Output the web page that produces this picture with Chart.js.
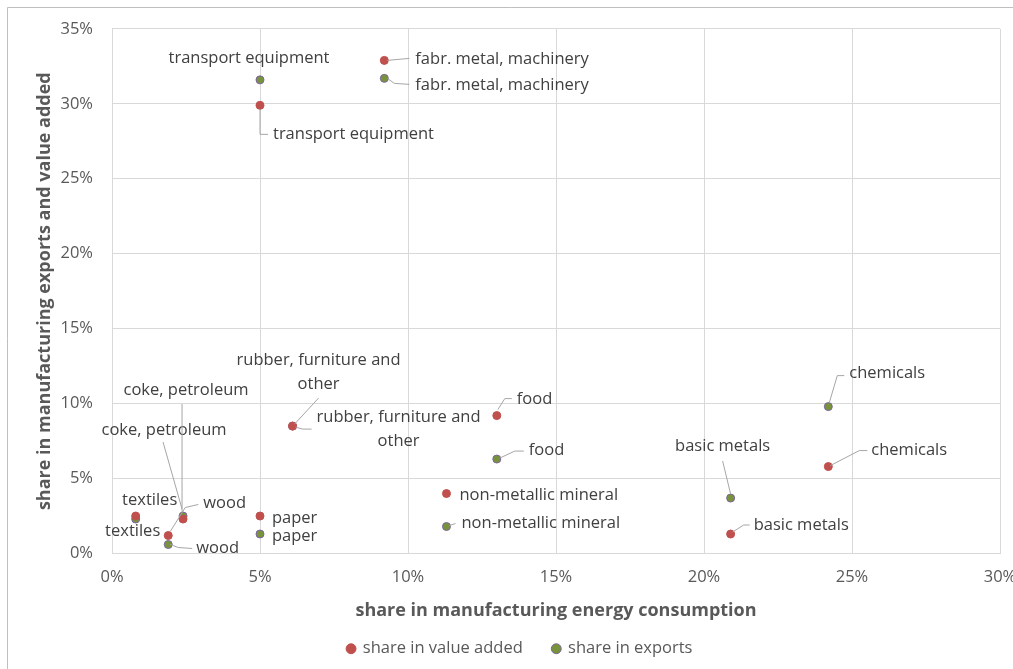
<!DOCTYPE html>
<html>
<head>
<meta charset="utf-8">
<script src="https://cdn.jsdelivr.net/npm/chart.js@4"></script>
<style>
  html, body { margin: 0; padding: 0; background: #fff; }
  #wrap { width: 1013px; height: 669px; }
</style>
</head>
<body>
<div id="wrap"><canvas id="chart" width="1013" height="669"></canvas></div>
<script>
// sectors, in the same order in every array
var categories = ['textiles', 'coke, petroleum', 'wood', 'paper', 'transport equipment',
    'fabr. metal, machinery', 'rubber, furniture and other', 'food', 'non-metallic mineral',
    'chemicals', 'basic metals'];
var energyShare = [0.8, 2.4, 1.9, 5.0, 5.0, 9.2, 6.1, 13.0, 11.3, 24.2, 20.9];
var valueAddedShare = [2.5, 2.3, 1.2, 2.5, 29.9, 32.9, 8.5, 9.2, 4.0, 5.8, 1.3];
var exportsShare = [2.3, 2.5, 0.6, 1.3, 31.6, 31.7, 8.5, 6.3, 1.8, 9.8, 3.7];
var seriesNames = ['share in value added', 'share in exports'];
var xTicks = [0, 5, 10, 15, 20, 25, 30];
var yTicks = [0, 5, 10, 15, 20, 25, 30, 35];

var textColor = '#595959';
var fontFamily = "'Open Sans', 'Liberation Sans', sans-serif";

function toPoints(ys) {
    return ys.map(function(y, i) { return { x: energyShare[i], y: y }; });
}

// where each data label sits, relative to its point (px), and the leader line path
var labelPlacement = [
    [ // value added
        { dx: 14, dy: -16, align: 'center' },
        { dx: -19, dy: -89, align: 'center', line: [[-1, -10], [-20, -77]] },
        { dx: 35, dy: -32, align: 'left', line: [[2, -4], [17, -28], [30, -31]] },
        { dx: 12, dy: 2, align: 'left' },
        { dx: 13, dy: 29, align: 'left', line: [[0, 4], [0, 29], [8, 29]] },
        { dx: 31, dy: -1, align: 'left', line: [[3, 0], [25, -2]] },
        { dx: 26, dy: -66, align: 'center', line: [[2, -2], [26, -28]] },
        { dx: 20, dy: -16, align: 'left', line: [[1, -6], [8, -17], [15, -17]] },
        { dx: 13, dy: 2, align: 'left' },
        { dx: 43, dy: -16, align: 'left', line: [[2, -1], [31, -16], [39, -16]] },
        { dx: 23, dy: -9, align: 'left', line: [[2, -2], [13, -9], [19, -9]] }
    ],
    [ // exports
        { dx: -3, dy: 12, align: 'center' },
        { dx: 3, dy: -126, align: 'center', line: [[-1, -4], [-1, -112]] },
        { dx: 28, dy: 4, align: 'left', line: [[2, 0], [10, 3], [24, 4]] },
        { dx: 12, dy: 2, align: 'left' },
        { dx: -11, dy: -22, align: 'center' },
        { dx: 31, dy: 7, align: 'left', line: [[3, 0], [10, 5], [25, 6]] },
        { dx: 106, dy: -9, align: 'center', line: [[3, 1], [10, 3], [19, 3]] },
        { dx: 32, dy: -9, align: 'left', line: [[3, -1], [18, -8], [27, -8]] },
        { dx: 15, dy: -3, align: 'left', line: [[3, -1], [9, -3]] },
        { dx: 21, dy: -33, align: 'left', line: [[1, -4], [9, -31], [16, -31]] },
        { dx: -8, dy: -52, align: 'center', line: [[0, -4], [-8, -37]] }
    ]
];

// long names break onto two lines like the original
function labelLines(name) {
    if (name === 'rubber, furniture and other') return ['rubber, furniture and', 'other'];
    return [name];
}

var pointLabels = {
    id: 'pointLabels',
    afterDatasetsDraw: function(chart) {
        var ctx = chart.ctx;
        ctx.save();
        ctx.font = '16.5px ' + fontFamily;
        ctx.textBaseline = 'middle';
        chart.data.datasets.forEach(function(ds, di) {
            var meta = chart.getDatasetMeta(di);
            meta.data.forEach(function(pt, i) {
                var p = labelPlacement[di][i];
                if (!p) return;
                if (p.line) {
                    ctx.strokeStyle = '#a6a6a6';
                    ctx.lineWidth = 1;
                    ctx.beginPath();
                    p.line.forEach(function(o, k) {
                        if (k === 0) ctx.moveTo(pt.x + o[0], pt.y + o[1]);
                        else ctx.lineTo(pt.x + o[0], pt.y + o[1]);
                    });
                    ctx.stroke();
                }
                ctx.fillStyle = '#404040';
                ctx.textAlign = p.align;
                labelLines(categories[i]).forEach(function(line, k) {
                    ctx.fillText(line, pt.x + p.dx, pt.y + p.dy + k * 24);
                });
            });
        });
        ctx.restore();
    }
};

var frame = {
    id: 'frame',
    beforeDraw: function(chart) {
        var ctx = chart.ctx;
        ctx.save();
        ctx.fillStyle = '#fff';
        ctx.fillRect(0, 0, chart.width, chart.height);
        ctx.strokeStyle = '#bfbfbf';
        ctx.lineWidth = 1;
        ctx.beginPath();
        ctx.moveTo(7.5, chart.height);
        ctx.lineTo(7.5, 7.5);
        ctx.lineTo(chart.width, 7.5);
        ctx.stroke();
        ctx.restore();
    }
};

var chart = new Chart(document.getElementById('chart').getContext('2d'), {
    type: 'scatter',
    data: {
        datasets: [{
            label: seriesNames[0],
            data: toPoints(valueAddedShare),
            backgroundColor: '#c0504d',
            borderColor: '#c0504d',
            borderWidth: 1,
            pointRadius: 4
        }, {
            label: seriesNames[1],
            data: toPoints(exportsShare),
            backgroundColor: '#77933c',
            borderColor: '#8064a2',
            borderWidth: 1,
            pointRadius: 4
        }]
    },
    options: {
        responsive: false,
        animation: false,
        layout: { padding: { left: 40, right: 13, top: 27, bottom: 2 } },
        plugins: {
            tooltip: { enabled: false },
            legend: {
                position: 'bottom',
                labels: {
                    usePointStyle: true,
                    pointStyle: 'circle',
                    boxWidth: 7,
                    boxHeight: 7,
                    padding: 30,
                    color: textColor,
                    font: { family: fontFamily, size: 16.5 }
                }
            }
        },
        scales: {
            x: {
                type: 'linear',
                min: 0,
                max: 30,
                afterBuildTicks: function(scale) {
                    scale.ticks = xTicks.map(function(v) { return { value: v }; });
                },
                afterFit: function(scale) {
                    scale.height = 57;
                    scale.paddingRight = 0;
                },
                grid: { color: '#d9d9d9', drawTicks: false },
                border: { color: '#d9d9d9' },
                ticks: {
                    padding: 14,
                    color: textColor,
                    font: { family: fontFamily, size: 16.5 },
                    callback: function(v) { return v + '%'; }
                },
                title: {
                    display: true,
                    text: 'share in manufacturing energy consumption',
                    color: textColor,
                    padding: { top: 0, bottom: -11 },
                    font: { family: fontFamily, size: 18, weight: 'bold' }
                }
            },
            y: {
                type: 'linear',
                min: 0,
                max: 35,
                afterBuildTicks: function(scale) {
                    scale.ticks = yTicks.map(function(v) { return { value: v }; });
                },
                afterFit: function(scale) {
                    scale.width = 72;
                },
                grid: { color: '#d9d9d9', drawTicks: false },
                border: { color: '#d9d9d9' },
                ticks: {
                    padding: 19,
                    color: textColor,
                    font: { family: fontFamily, size: 16.5 },
                    callback: function(v) { return v + '%'; }
                },
                title: {
                    display: true,
                    text: 'share in manufacturing exports and value added',
                    color: textColor,
                    padding: { top: -6 },
                    font: { family: fontFamily, size: 18, weight: 'bold' }
                }
            }
        }
    },
    plugins: [frame, pointLabels]
});
</script>
</body>
</html>
